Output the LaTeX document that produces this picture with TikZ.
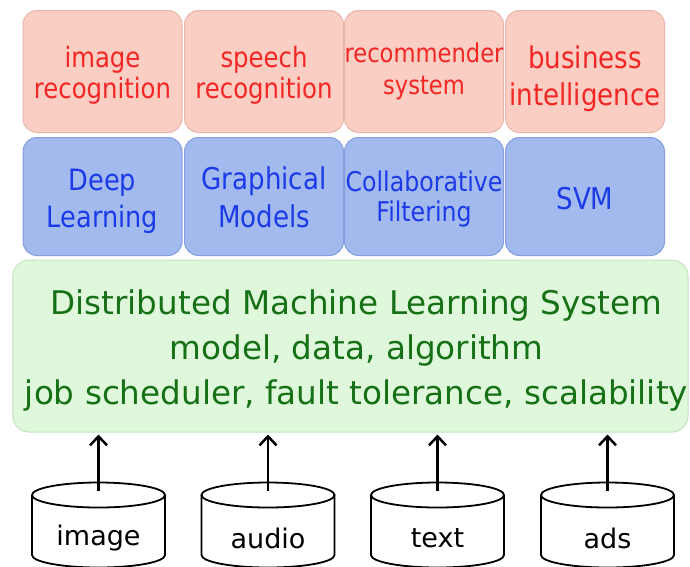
\documentclass[tikz,border=0pt]{standalone}
\usepackage{fontspec}
\setmainfont{DejaVu Sans}[FakeStretch=0.87]
\newfontfamily\widefont{DejaVu Sans}
\usetikzlibrary{arrows.meta}
\definecolor{appfill}{RGB}{250,206,194}
\definecolor{appdraw}{RGB}{232,182,172}
\definecolor{apptext}{RGB}{243,38,38}
\definecolor{algfill}{RGB}{162,186,238}
\definecolor{algdraw}{RGB}{132,158,222}
\definecolor{algtext}{RGB}{28,58,232}
\definecolor{sysfill}{RGB}{223,247,219}
\definecolor{sysdraw}{RGB}{196,228,192}
\definecolor{systext}{RGB}{22,112,22}
\newcommand{\shiftedtext}[2]{\raisebox{#1}[\height][\depth]{\begin{tabular}{@{}c@{}}#2\end{tabular}}}
\begin{document}
\begin{tikzpicture}[x=1pt,y=-1pt,
  box/.style={rectangle, rounded corners=14pt, line width=1pt, minimum width=159pt, inner sep=0pt, align=center},
  appbox/.style={box, fill=appfill, draw=appdraw, minimum height=122pt, text=apptext},
  algbox/.style={box, fill=algfill, draw=algdraw, minimum height=118pt, text=algtext},
  sysbox/.style={rectangle, rounded corners=16pt, line width=1pt, fill=sysfill, draw=sysdraw, minimum width=675pt, minimum height=172pt, inner sep=0pt, align=center, text=systext, font=\widefont\fontsize{32.6}{45}\selectfont},
  cyl/.style={draw=black, line width=1.8pt},
  datalabel/.style={inner sep=0pt, font=\widefont\fontsize{27}{32}\selectfont},
  arr/.style={line width=2.5pt, -{Straight Barb[length=9pt,width=17pt]}, shorten >=2pt}
]
\useasboundingbox (0,0) rectangle (690,566);
\fill[white] (0,0) rectangle (690,566);

% applications
\node[appbox, font=\fontsize{28}{31}\selectfont] (img) at (102.5,71.5) {\shiftedtext{-5pt}{image\\recognition}};
\node[appbox, font=\fontsize{28}{31}\selectfont] (spe) at (264,71.5) {\shiftedtext{-5pt}{speech\\recognition}};
\node[appbox, font=\fontsize{26}{32}\selectfont] (rec) at (424,71.5) {\shiftedtext{-1pt}{recommender\\system}};
\node[appbox, font=\fontsize{30}{37}\selectfont] (bus) at (585,71.5) {\shiftedtext{-8pt}{business\\intelligence}};

% algorithms
\node[algbox, font=\fontsize{29.4}{37}\selectfont] (dl) at (102.5,196.5) {\shiftedtext{-5pt}{Deep\\Learning}};
\node[algbox, font=\fontsize{30}{38}\selectfont] (gm) at (264,196.5) {\shiftedtext{-4pt}{Graphical\\Models}};
\node[algbox, font=\fontsize{27.2}{30}\selectfont] (cf) at (424,196.5) {\shiftedtext{-4pt}{Collaborative\\Filtering}};
\node[algbox, font=\fontsize{30}{36}\selectfont] (svm) at (585,196.5) {\shiftedtext{-6pt}{SVM}};

% system
\node[sysbox] (sys) at (350.5,346) {\hspace*{12pt}\shiftedtext{-4.5pt}{Distributed Machine Learning System\\model, data, algorithm\\job scheduler, fault tolerance, scalability}};

% data sources
\foreach \cx/\nm/\lab in {98.5/dimg/image, 268/daud/audio, 437.5/dtxt/text, 607.5/dads/ads} {
  \draw[cyl] (\cx-66.5,495) -- (\cx-66.5,555) arc[start angle=180, end angle=0, x radius=66.5, y radius=12.5] -- (\cx+66.5,495);
  \draw[cyl] (\cx,495) ellipse[x radius=66.5, y radius=12.5];
  \node[datalabel] (\nm) at (\cx,538) {\lab};
  \coordinate (\nm top) at (\cx,491);
}
\foreach \nm in {dimg,daud,dtxt,dads} {
  \draw[arr] (\nm top) -- (\nm top |- sys.south);
}
\end{tikzpicture}
\end{document}
